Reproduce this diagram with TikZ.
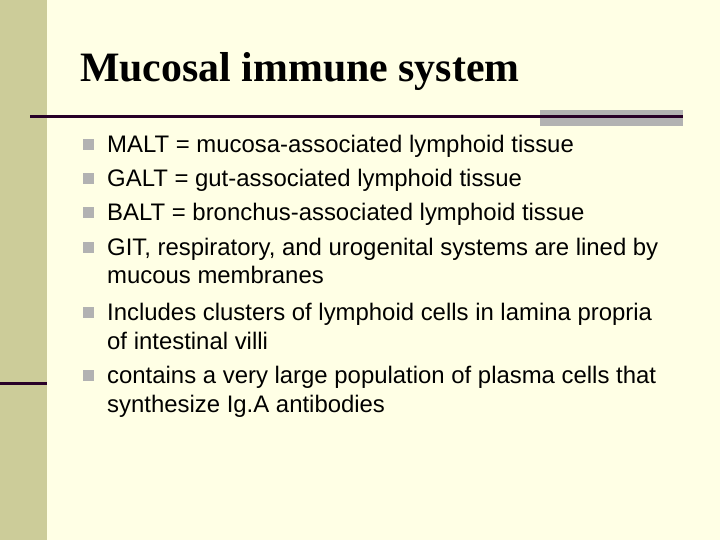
\documentclass[tikz,border=0pt]{standalone}
\usepackage{fontspec}
\setmainfont{Liberation Sans}
\newfontfamily\titlefont{Liberation Serif}
\begin{document}
\begin{tikzpicture}[x=1bp,y=-1bp,
  txt/.style={anchor=base west,inner sep=0pt,font=\fontsize{24}{28}\selectfont},
  bul/.style={fill=black!30,minimum size=11bp,inner sep=0pt}]
\definecolor{bg}{RGB}{255,255,229}
\definecolor{side}{RGB}{204,204,153}
\definecolor{dark}{RGB}{40,0,40}
\useasboundingbox (0,0) rectangle (720,540);
\fill[bg] (0,0) rectangle (720,540);
\fill[side] (0,0) rectangle (47,540);
\fill[black!30] (540,110) rectangle (683,126);
\draw[dark,line width=3bp] (30,117) -- (683,117);
\draw[dark,line width=3bp] (0,383) -- (47,383);
\node[anchor=base west,inner sep=0pt,font=\titlefont\bfseries\fontsize{42}{46}\selectfont] (title) at (80,82) {Mucosal immune system};
\foreach \y/\t [count=\i] in {153/{MALT = mucosa-associated lymphoid tissue},187/{GALT = gut-associated lymphoid tissue},221/{BALT = bronchus-associated lymphoid tissue},256/{GIT, respiratory, and urogenital systems are lined by},284/{mucous membranes},320/{Includes clusters of lymphoid cells in lamina propria},349/{of intestinal villi},383/{contains a very large population of plasma cells that},412/{synthesize Ig.A antibodies}}
  \node[txt] (t\i) at (107,\y) {\t};
\foreach \y [count=\i] in {145,179,213,248,312,375}
  \node[bul] (b\i) at (88,\y) {};
\end{tikzpicture}
\end{document}
